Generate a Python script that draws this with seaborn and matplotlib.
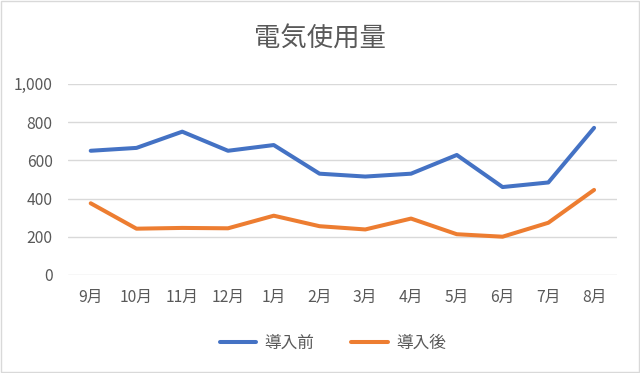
import pandas as pd
import matplotlib
matplotlib.use("Agg")
import matplotlib.pyplot as plt
import seaborn as sns
from matplotlib.patches import Rectangle

months = ["9月", "10月", "11月", "12月", "1月", "2月", "3月", "4月", "5月", "6月", "7月", "8月"]
before = [650, 665, 750, 650, 680, 530, 515, 530, 628, 460, 484, 770]
after = [375, 242, 246, 244, 310, 255, 238, 295, 213, 200, 273, 445]
series_names = ["導入前", "導入後"]

sns.set_theme(style="white")
plt.rcParams["font.family"] = ["Noto Sans CJK JP", "DejaVu Sans"]

df = pd.DataFrame({
    "month": months * 2,
    "value": before + after,
    "series": [series_names[0]] * len(months) + [series_names[1]] * len(months),
})

text_col = "#595959"
fig = plt.figure(figsize=(6.4, 3.73), dpi=100)
ax = fig.add_axes([0.106, 0.263, 0.858, 0.512])

sns.lineplot(data=df, x="month", y="value", hue="series", sort=False,
             palette=["#4472C4", "#ED7D31"], linewidth=2.9, ax=ax, legend=False)

ax.set_ylim(0, 1000)
ax.set_xlim(-0.5, len(months) - 0.5)
ax.set_yticks(range(0, 1001, 200))
ax.set_yticklabels([f"{v:,}" for v in range(0, 1001, 200)])
ax.yaxis.grid(True, color="#D9D9D9", linewidth=1)
ax.set_axisbelow(True)
for s in ax.spines.values():
    s.set_visible(False)
ax.tick_params(axis="both", length=0, labelsize=11.3, colors=text_col)
ax.tick_params(axis="y", pad=11)
ax.tick_params(axis="x", pad=10)
ax.set_xlabel("")
ax.set_ylabel("")

fig.text(0.5, 0.895, "電気使用量", ha="center", va="center", fontsize=19, color=text_col)

handles = [plt.Line2D([], [], color=c, linewidth=2.9, solid_capstyle="round")
           for c in ["#4472C4", "#ED7D31"]]
fig.legend(handles, series_names, loc="center", bbox_to_anchor=(0.52, 0.08), ncol=2,
           frameon=False, fontsize=12, labelcolor=text_col, handlelength=2.2,
           columnspacing=2.2, handletextpad=0.5)

fig.patches.append(Rectangle((0.001, 0.002), 0.997, 0.995, transform=fig.transFigure,
                             fill=False, edgecolor="#D9D9D9", linewidth=1))

fig.savefig("out.png", dpi=100)
